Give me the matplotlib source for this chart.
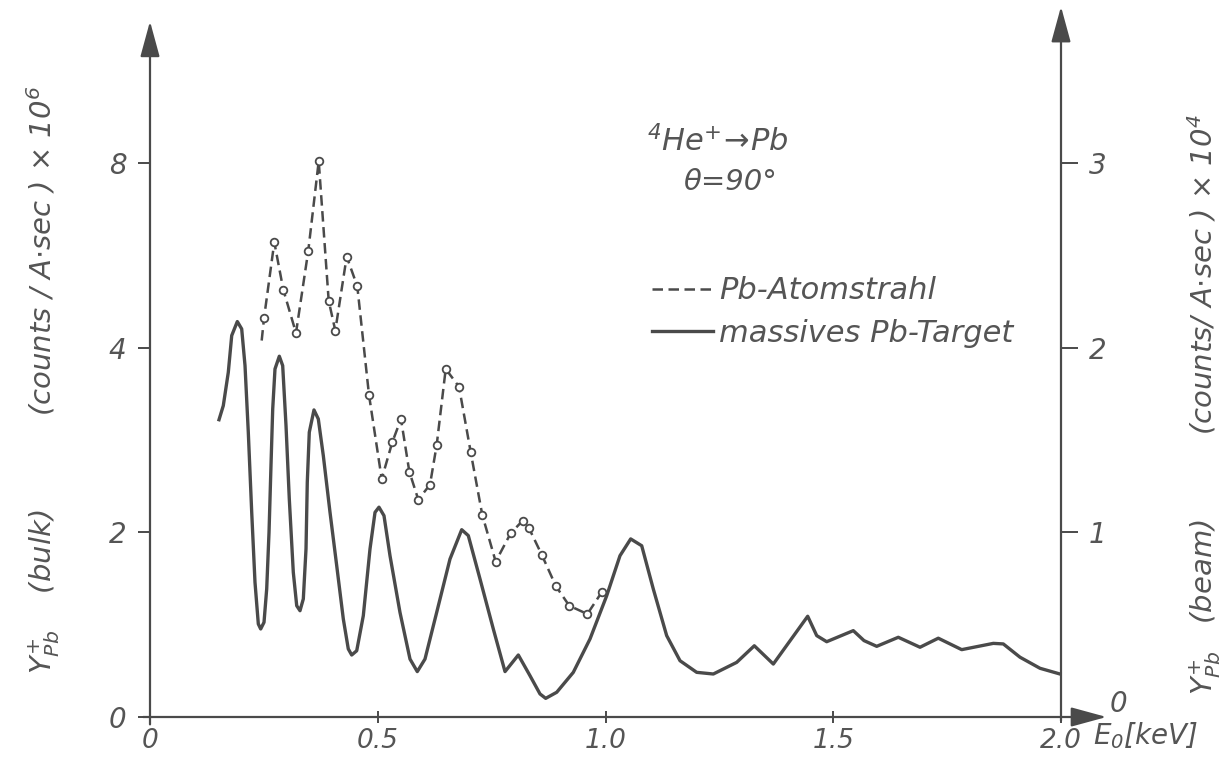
import matplotlib.pyplot as plt
from matplotlib.lines import Line2D

# Energies in keV, yields in axis divisions (left: 0,2,4,8 x1e6 ; right: 0..3 x1e4)
bulk_E = [0.1515, 0.1609, 0.1719, 0.1794, 0.1917, 0.2013, 0.2086, 0.2158, 0.2233, 0.2305,
          0.2378, 0.2430, 0.2503, 0.2562, 0.2613, 0.2656, 0.2694, 0.2744, 0.2839, 0.2913,
          0.2986, 0.3058, 0.3146, 0.3221, 0.3293, 0.3366, 0.3425, 0.3453, 0.3497, 0.3600,
          0.3695, 0.3805, 0.3952, 0.4099, 0.4244, 0.4353, 0.4428, 0.4538, 0.4683, 0.4830,
          0.4940, 0.5027, 0.5137, 0.5269, 0.5488, 0.5708, 0.5868, 0.6037, 0.6294, 0.6586,
          0.6843, 0.6988, 0.7245, 0.7537, 0.7794, 0.8086, 0.8342, 0.8562, 0.8687, 0.8929,
          0.9293, 0.9660, 1.0026, 1.0318, 1.0553, 1.0795, 1.1049, 1.1343, 1.1636, 1.2002,
          1.2367, 1.2880, 1.3267, 1.3684, 1.4439, 1.4637, 1.4856, 1.5440, 1.5675, 1.5954,
          1.6428, 1.6905, 1.7306, 1.7820, 1.8514, 1.8733, 1.9100, 1.9539, 1.9978]
bulk_Y = [1.611, 1.687, 1.868, 2.067, 2.143, 2.103, 1.904, 1.543, 1.109, 0.730,
          0.504, 0.477, 0.513, 0.694, 1.001, 1.362, 1.669, 1.886, 1.955, 1.904,
          1.579, 1.182, 0.784, 0.603, 0.576, 0.640, 0.911, 1.272, 1.543, 1.664,
          1.615, 1.416, 1.109, 0.820, 0.531, 0.369, 0.336, 0.359, 0.549, 0.911,
          1.109, 1.137, 1.091, 0.874, 0.567, 0.314, 0.246, 0.314, 0.567, 0.856,
          1.015, 0.983, 0.748, 0.477, 0.246, 0.336, 0.224, 0.125, 0.101, 0.134,
          0.242, 0.423, 0.657, 0.874, 0.965, 0.928, 0.694, 0.441, 0.305, 0.242,
          0.233, 0.296, 0.386, 0.287, 0.546, 0.441, 0.408, 0.468, 0.414, 0.383,
          0.432, 0.378, 0.427, 0.365, 0.399, 0.396, 0.324, 0.264, 0.233]

beam_E = [0.2452, 0.2503, 0.2729, 0.2926, 0.3205, 0.3475, 0.3704, 0.3923, 0.4068, 0.4318,
          0.4551, 0.4808, 0.5087, 0.5319, 0.5510, 0.5693, 0.5890, 0.6147, 0.6294, 0.6492,
          0.6784, 0.7041, 0.7295, 0.7589, 0.7919, 0.8182, 0.8321, 0.8599, 0.8913, 0.9205,
          0.9601, 0.9917]
beam_Y = [2.040, 2.161, 2.573, 2.316, 2.081, 2.527, 3.012, 2.256, 2.094, 2.495,
          2.334, 1.745, 1.290, 1.489, 1.615, 1.330, 1.178, 1.259, 1.474, 1.886,
          1.790, 1.435, 1.095, 0.842, 0.996, 1.064, 1.023, 0.880, 0.708, 0.603,
          0.558, 0.676]

x_ticks = [0, 0.5, 1.0, 1.5, 2.0]
x_labels = ['0', '0.5', '1.0', '1.5', '2.0']
left_ticks = [0, 1, 2, 3]
left_labels = ['0', '2', '4', '8']
right_ticks = [1, 2, 3]
right_labels = ['1', '2', '3']

ink = '#4a4a4a'
txt = '#555555'
dash = (0, (4.2, 2.2))

plt.rcParams['font.family'] = ['DejaVu Sans']
plt.rcParams['font.style'] = 'italic'
plt.rcParams['mathtext.fontset'] = 'dejavusans'
plt.rcParams['mathtext.default'] = 'it'

fig = plt.figure(figsize=(12.32, 7.58), dpi=100)
ax = fig.add_axes([150 / 1232, 41 / 758, 911 / 1232, 692 / 758])
ax.set_xlim(0, 2.0)
ax.set_ylim(0, 3.75)
for s in ax.spines.values():
    s.set_visible(False)

# bulk target (solid) and atomic beam (dashed with open circles)
ax.plot(bulk_E, bulk_Y, color=ink, lw=2.4, solid_joinstyle='round', clip_on=False)
ax.plot(beam_E, beam_Y, color=ink, lw=1.8, ls=dash)
ax.plot(beam_E[1:], beam_Y[1:], ls='none', marker='o', ms=5.5, mfc='white',
        mec=ink, mew=1.3)

# axes drawn as arrows
arrow = dict(arrowstyle='-|>,head_length=1.1,head_width=0.3', color=ink, lw=1.6,
             mutation_scale=20, shrinkA=0, shrinkB=0)
ax.annotate('', xy=(0, 3.77), xytext=(0, -0.04), arrowprops=arrow, annotation_clip=False)
ax.annotate('', xy=(2.0, 3.85), xytext=(2.0, -0.02), arrowprops=arrow, annotation_clip=False)
ax.annotate('', xy=(2.1, 0), xytext=(-0.015, 0), arrowprops=arrow, annotation_clip=False)

ax.set_xticks(x_ticks)
ax.set_xticklabels(x_labels)
ax.set_yticks(left_ticks)
ax.set_yticklabels(left_labels)
ax.tick_params(axis='x', direction='inout', length=8, width=1.4, color=ink,
               labelsize=19, labelcolor=txt, pad=4)
ax.tick_params(axis='y', direction='out', length=9, width=1.4, color=ink,
               labelsize=20, labelcolor=txt, pad=8)

ax2 = ax.twinx()
ax2.set_ylim(ax.get_ylim())
for s in ax2.spines.values():
    s.set_visible(False)
ax2.set_yticks(right_ticks)
ax2.set_yticklabels(right_labels)
ax2.tick_params(axis='y', direction='out', length=12, width=1.4, color=ink,
                labelsize=20, labelcolor=txt, pad=8)
ax.text(2.125, 0.07, '0', fontsize=20, color=txt, ha='center', va='center')
ax.text(2.07, -0.10, r'$E_0$[keV]', fontsize=20, color=txt, ha='left', va='center')

ax.set_ylabel(r'$Y^{+}_{Pb}$    (bulk)          (counts / A$\cdot$sec ) $\times$ 10$^{6}$',
              fontsize=21, color=txt)
ax.yaxis.set_label_coords(-0.097, 0.487)
ax2.set_ylabel(r'$Y^{+}_{Pb}$   (beam)         (counts/ A$\cdot$sec ) $\times$ 10$^{4}$',
               fontsize=21, color=txt, rotation=90)
ax2.yaxis.set_label_coords(1.136, 0.451)

ax.text(1.247, 3.12, r'$^{4}$He$^{+}$$\!\rightarrow\!$Pb', fontsize=22, color=txt,
        ha='center', va='center')
ax.text(1.275, 2.90, 'θ=90°', fontsize=21, color=txt, ha='center', va='center')

handles = [Line2D([], [], color=ink, lw=1.8, ls=dash),
           Line2D([], [], color=ink, lw=2.4)]
ax.legend(handles, ['Pb-Atomstrahl', 'massives Pb-Target'], loc='upper left',
          bbox_to_anchor=(0.551, 0.637), frameon=False, fontsize=22, handlelength=2.0,
          handletextpad=0.2, labelspacing=0.45, borderpad=0, borderaxespad=0,
          labelcolor=txt)

fig.savefig('out.png', dpi=100)
